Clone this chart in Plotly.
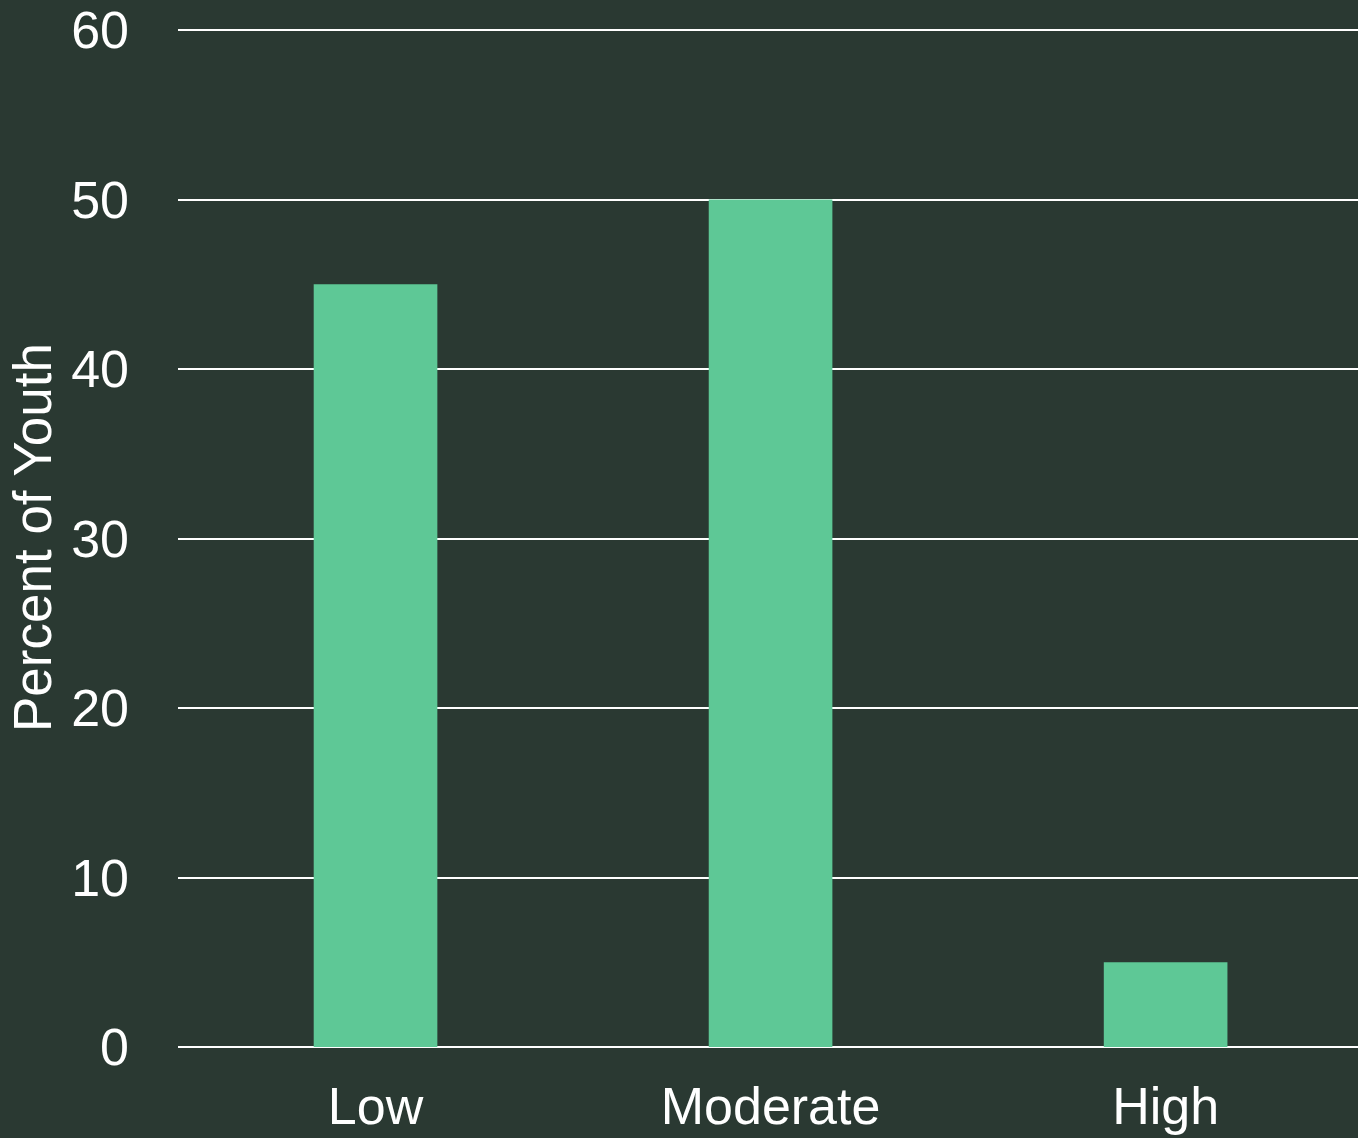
import plotly.graph_objects as go

# Youth distribution by level
categories = ["Low", "Moderate", "High"]
percent_of_youth = [45, 50, 5]
y_ticks = [0, 10, 20, 30, 40, 50, 60]

BG = "#2a3932"
BAR = "#5ec896"
FONT = "Liberation Sans, Arial, sans-serif"

fig = go.Figure(
    go.Bar(
        x=categories,
        y=percent_of_youth,
        marker=dict(color=BAR, line=dict(width=0)),
        hoverinfo="x+y",
    )
)

fig.update_layout(
    width=1358,
    height=1138,
    paper_bgcolor=BG,
    plot_bgcolor=BG,
    margin=dict(l=178, r=0, t=28, b=91),
    bargap=0.687,
    showlegend=False,
    font=dict(family=FONT, size=52, color="white"),
)

fig.update_xaxes(
    range=[-0.5, 2.487],
    showgrid=False,
    showline=False,
    zeroline=False,
    ticks="",
    ticklabelstandoff=24,
    tickfont=dict(size=52, color="white"),
)

# top of range sits just above 60 so its grid line is kept
fig.update_yaxes(
    range=[0, 60.12],
    tickvals=y_ticks,
    showgrid=True,
    gridcolor="white",
    gridwidth=2,
    zeroline=True,
    zerolinecolor="white",
    zerolinewidth=2,
    showline=False,
    ticks="",
    ticklabelstandoff=48,
    tickfont=dict(size=52, color="white"),
    title=dict(text="Percent of Youth", font=dict(size=53, color="white"), standoff=2),
)

fig.write_html("out.html")
